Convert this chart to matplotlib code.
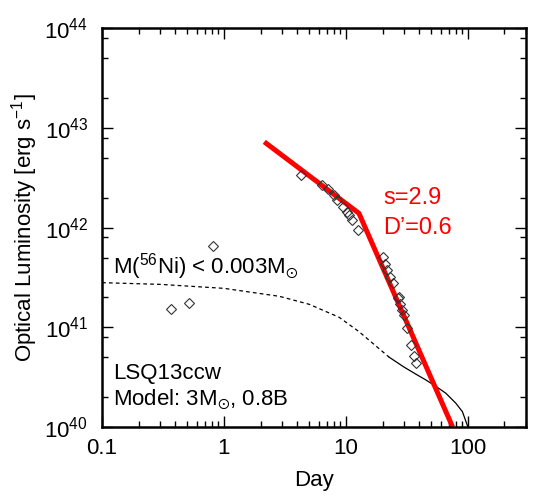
import numpy as np
import matplotlib
matplotlib.use('Agg')
import matplotlib.pyplot as plt
from matplotlib.ticker import FixedLocator, FuncFormatter, NullFormatter

plt.rcParams['font.family'] = ['Liberation Sans', 'DejaVu Sans']
plt.rcParams['mathtext.fontset'] = 'custom'
plt.rcParams['mathtext.rm'] = 'Liberation Sans'
plt.rcParams['mathtext.it'] = 'Liberation Sans:italic'
plt.rcParams['mathtext.default'] = 'regular'

# observed light curve (day, log L)
obs_t = [0.37, 0.52, 0.82,
         4.3, 6.4, 7.2, 8.0, 8.5, 9.4, 10.3, 10.6, 11.2, 12.5,
         20.0, 21.0, 21.9, 23.1, 24.4, 27.0, 27.3, 27.7, 28.8, 29.7,
         31.6, 34.1, 36.3, 37.5]
obs_logL = [41.18, 41.24, 41.815,
            42.528, 42.427, 42.384, 42.327, 42.277, 42.21, 42.16, 42.126, 42.076, 41.98,
            41.708, 41.635, 41.575, 41.508, 41.447, 41.291, 41.30, 41.234, 41.174, 41.123,
            40.996, 40.822, 40.712, 40.639]

# broken power-law fit
fit_t = [2.14, 12.8, 75.0]
fit_logL = [42.86, 42.143, 40.0]

# 56Ni upper limit (dashed) and model (solid)
ni_t = [0.1, 0.3, 1.0, 2.85, 5.0, 8.8, 12.8, 22.6]
ni_logL = [41.447, 41.43, 41.39, 41.31, 41.23, 41.10, 40.956, 40.70]
mod_t = [22.6, 30.0, 38.0, 45.3, 55.0, 66.0, 79.7, 90.3, 99.3, 104.0]
mod_logL = [40.70, 40.60, 40.525, 40.471, 40.405, 40.338, 40.238, 40.153, 40.013, 39.93]

fig = plt.figure(figsize=(5.4, 5.04), dpi=100)
ax = fig.add_axes([0.189, 0.153, 0.785, 0.791])

ax.plot(ni_t, 10 ** np.array(ni_logL), color='black', lw=0.9, ls=(0, (3, 2.5)))
ax.plot(mod_t, 10 ** np.array(mod_logL), color='black', lw=0.9)
ax.plot(fit_t, 10 ** np.array(fit_logL), color='red', lw=3.6, solid_capstyle='butt')
ax.plot(obs_t, 10 ** np.array(obs_logL), ls='none', marker='D', ms=5,
        mfc='none', mec='#333333', mew=0.8, zorder=5)

ax.set_xscale('log')
ax.set_yscale('log')
ax.set_xlim(0.1, 300)
ax.set_ylim(1e40, 1e44)

ax.xaxis.set_major_locator(FixedLocator([0.1, 1, 10, 100]))
ax.xaxis.set_major_formatter(FuncFormatter(lambda v, p: '%g' % v))
xminor = [m * 10.0 ** e for e in range(-1, 3) for m in range(2, 10)]
ax.xaxis.set_minor_locator(FixedLocator(xminor))
ax.xaxis.set_minor_formatter(NullFormatter())

ax.yaxis.set_major_locator(FixedLocator([1e40, 1e41, 1e42, 1e43, 1e44]))
ax.yaxis.set_major_formatter(FuncFormatter(lambda v, p: r'$10^{%d}$' % round(np.log10(v))))
yminor = [m * 10.0 ** e for e in range(40, 44) for m in (2, 5, 8)]
ax.yaxis.set_minor_locator(FixedLocator(yminor))
ax.yaxis.set_minor_formatter(NullFormatter())

ax.tick_params(which='both', direction='in', top=True, right=True, labelsize=16)
ax.tick_params(which='major', length=8, width=1)
ax.tick_params(which='minor', length=4, width=1)
ax.tick_params(axis='x', pad=8)
ax.tick_params(axis='y', pad=10)
for s in ax.spines.values():
    s.set_linewidth(1.8)

ax.set_xlabel('Day', fontsize=16, labelpad=8)
ax.set_ylabel(r'Optical Luminosity [erg s$^{-1}$]', fontsize=16, labelpad=3)

ax.text(0.025, 0.401, r'M($^{56}$Ni) < 0.003M$_{\odot}$', transform=ax.transAxes,
        fontsize=16, va='center', ha='left')
ax.text(0.025, 0.135, 'LSQ13ccw', transform=ax.transAxes, fontsize=16, va='center')
ax.text(0.025, 0.068, r'Model: 3M$_{\odot}$, 0.8B', transform=ax.transAxes,
        fontsize=16, va='center')
ax.text(0.663, 0.574, 's=2.9', transform=ax.transAxes, fontsize=17, color='red', va='center')
ax.text(0.663, 0.499, 'D\u2019=0.6', transform=ax.transAxes, fontsize=17, color='red',
        va='center')

fig.savefig('out.png', dpi=100)
